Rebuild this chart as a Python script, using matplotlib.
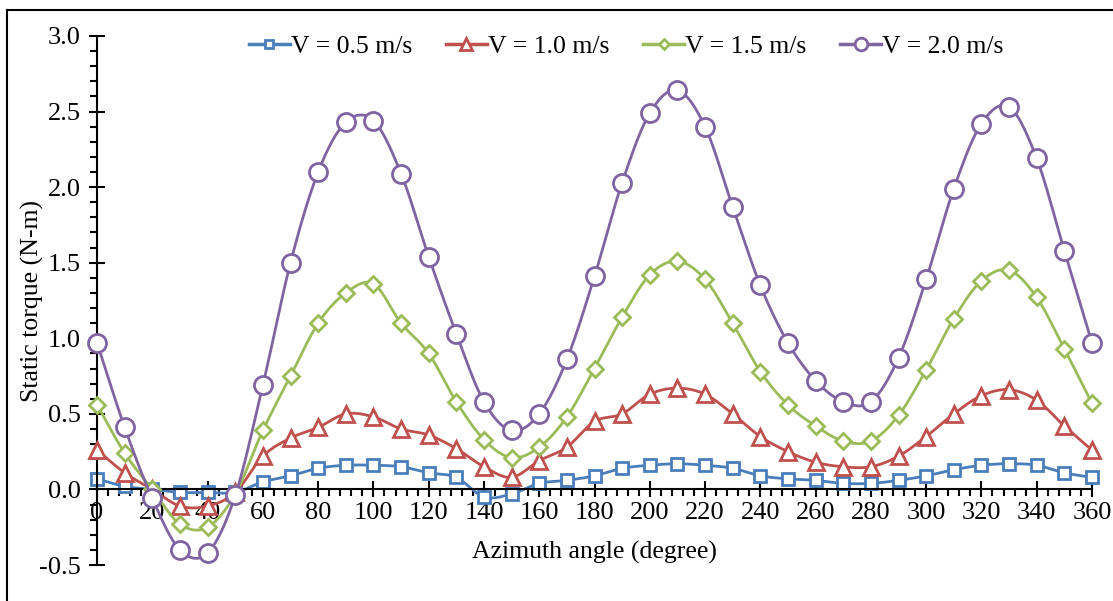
import numpy as np
import matplotlib
matplotlib.use('Agg')
import matplotlib.pyplot as plt
from matplotlib.lines import Line2D
from matplotlib.ticker import MultipleLocator

plt.rcParams['font.family'] = ['Liberation Serif', 'DejaVu Serif']

# azimuth angle (degree)
angle = list(range(0, 361, 10))

# static torque (N-m) for each wind speed
v05 = [0.07, 0.02, 0.00, -0.02, -0.02, -0.02, 0.05, 0.09, 0.14, 0.16, 0.16,
       0.15, 0.11, 0.08, -0.05, -0.03, 0.04, 0.06, 0.09, 0.14, 0.16, 0.17,
       0.16, 0.14, 0.09, 0.07, 0.06, 0.04, 0.04, 0.06, 0.09, 0.13, 0.16,
       0.17, 0.16, 0.11, 0.08]
v10 = [0.26, 0.11, 0.00, -0.11, -0.11, -0.02, 0.22, 0.34, 0.41, 0.50, 0.48,
       0.40, 0.36, 0.27, 0.15, 0.08, 0.19, 0.28, 0.45, 0.50, 0.63, 0.67,
       0.63, 0.50, 0.35, 0.25, 0.18, 0.15, 0.15, 0.22, 0.35, 0.50, 0.62,
       0.66, 0.59, 0.42, 0.26]
v15 = [0.56, 0.24, 0.00, -0.23, -0.25, -0.03, 0.39, 0.75, 1.10, 1.30, 1.36,
       1.10, 0.90, 0.58, 0.33, 0.21, 0.28, 0.48, 0.80, 1.14, 1.42, 1.51,
       1.39, 1.10, 0.78, 0.56, 0.42, 0.32, 0.32, 0.49, 0.79, 1.13, 1.38,
       1.45, 1.27, 0.93, 0.57]
v20 = [0.97, 0.41, -0.06, -0.40, -0.42, -0.04, 0.69, 1.50, 2.10, 2.43, 2.44,
       2.09, 1.54, 1.03, 0.58, 0.39, 0.50, 0.86, 1.41, 2.03, 2.49, 2.64,
       2.40, 1.87, 1.35, 0.97, 0.72, 0.58, 0.58, 0.87, 1.39, 1.99, 2.42,
       2.53, 2.19, 1.58, 0.97]

labels = ['V = 0.5 m/s', 'V = 1.0 m/s', 'V = 1.5 m/s', 'V = 2.0 m/s']
colors = ['#4A7EBB', '#C0504D', '#9BBB59', '#8064A2']
markers = ['s', '^', 'D', 'o']
msizes = [8, 12, 8, 13]


# smoothed line like excel (catmull-rom through the points)
def smooth(x, y, n=16):
    x = np.asarray(x, float)
    y = np.asarray(y, float)
    px = np.concatenate([[2*x[0]-x[1]], x, [2*x[-1]-x[-2]]])
    py = np.concatenate([[2*y[0]-y[1]], y, [2*y[-1]-y[-2]]])
    xs, ys = [], []
    t = np.linspace(0, 1, n, endpoint=False)
    for i in range(1, len(px)-2):
        for arr, out in ((px, xs), (py, ys)):
            p0, p1, p2, p3 = arr[i-1], arr[i], arr[i+1], arr[i+2]
            out.extend(0.5*((2*p1) + (-p0+p2)*t + (2*p0-5*p1+4*p2-p3)*t**2
                            + (-p0+3*p1-3*p2+p3)*t**3))
    xs.append(x[-1])
    ys.append(y[-1])
    return xs, ys


fig = plt.figure(figsize=(11.13, 6.01), dpi=100)
ax = fig.add_axes([0.0872, 0.0599, 0.8939, 0.8802])

handles = []
for i, ser in enumerate([v05, v10, v15, v20]):
    sx, sy = smooth(angle, ser)
    ax.plot(sx, sy, color=colors[i], lw=2, zorder=2+i, clip_on=False)
    ax.plot(angle, ser, ls='none', marker=markers[i], ms=msizes[i],
            mfc='white', mec=colors[i], mew=2, zorder=2+i, clip_on=False)
    handles.append(Line2D([], [], color=colors[i], lw=2.5, marker=markers[i],
                          ms=msizes[i]*0.7, mfc='white', mec=colors[i], mew=2))

ax.set_xlim(0, 360)
ax.set_ylim(-0.5, 3.0)
ax.xaxis.set_major_locator(MultipleLocator(20))
ax.xaxis.set_minor_locator(MultipleLocator(4))
ax.yaxis.set_major_locator(MultipleLocator(0.5))
ax.yaxis.set_minor_locator(MultipleLocator(0.1))
ax.yaxis.set_major_formatter(plt.FuncFormatter(lambda v, p: '%.1f' % v))

ax.spines['top'].set_visible(False)
ax.spines['right'].set_visible(False)
ax.spines['bottom'].set_position(('data', 0))
ax.spines['left'].set_linewidth(1.5)
ax.spines['bottom'].set_linewidth(1.5)

ax.tick_params(axis='both', which='major', direction='inout', length=12,
               width=1.5, labelsize=19)
ax.tick_params(axis='both', which='minor', direction='out', length=5, width=1.5)
ax.tick_params(axis='x', which='major', pad=3)
ax.tick_params(axis='y', which='major', pad=6)

ax.text(180, -0.417, 'Azimuth angle (degree)', ha='center', va='center',
        fontsize=18.5)
ax.set_ylabel('Static torque (N-m)', fontsize=18.5, va='center')
ax.yaxis.set_label_coords(-0.065, 0.5)

ax.legend(handles, labels, ncol=4, loc='center', frameon=False,
          bbox_to_anchor=(0.532, 0.981), fontsize=18.5, handlelength=1.6,
          handletextpad=0.05, columnspacing=1.3)

# frame round the picture
fig.add_artist(Line2D([7/1113, 7/1113], [0, 1-10/601], color='black',
                      lw=1.5, transform=fig.transFigure))
fig.add_artist(Line2D([7/1113, 1], [1-10/601, 1-10/601], color='black',
                      lw=1.5, transform=fig.transFigure))

fig.savefig('out.png', dpi=100)
